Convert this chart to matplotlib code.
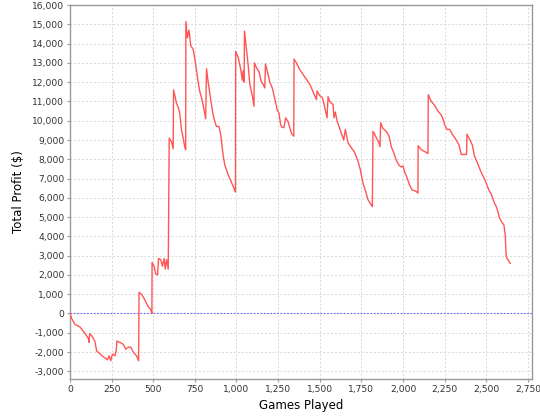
import matplotlib
matplotlib.use('Agg')
import matplotlib.pyplot as plt
from matplotlib.ticker import FuncFormatter, MultipleLocator

games = [0, 10, 30, 60, 90, 110, 115, 118, 130, 150, 160, 175, 200, 225, 235, 245,
         255, 270, 278, 282, 300, 320, 335, 350, 365, 380, 400, 412, 415, 430, 450,
         470, 485, 492, 493, 505, 515, 526, 532, 545, 555, 565, 572, 580, 590, 596,
         610, 620, 622, 640, 650, 660, 670, 680, 690, 695, 696, 705, 715, 725, 740,
         750, 760, 770, 780, 790, 800, 815, 820, 830, 845, 860, 870, 880, 895, 905,
         920, 930, 950, 970, 990, 994, 995, 1010, 1025, 1035, 1040, 1046, 1048, 1060,
         1070, 1080, 1095, 1105, 1108, 1120, 1135, 1150, 1160, 1170, 1174, 1190, 1200,
         1215, 1230, 1245, 1255, 1265, 1275, 1285, 1295, 1310, 1320, 1330, 1344, 1346,
         1360, 1380, 1400, 1420, 1440, 1455, 1470, 1480, 1484, 1500, 1516, 1530, 1544,
         1550, 1560, 1570, 1580, 1586, 1594, 1604, 1616, 1630, 1644, 1654, 1670, 1690,
         1710, 1730, 1744, 1760, 1776, 1790, 1804, 1816, 1820, 1830, 1840, 1854, 1862,
         1866, 1880, 1900, 1916, 1930, 1946, 1960, 1976, 1990, 2000, 2010, 2020, 2030,
         2040, 2056, 2076, 2090, 2091, 2110, 2130, 2150, 2152, 2170, 2190, 2210, 2230,
         2240, 2250, 2264, 2280, 2300, 2320, 2336, 2350, 2382, 2384, 2400, 2416, 2430,
         2450, 2466, 2480, 2496, 2516, 2530, 2546, 2560, 2570, 2580, 2596, 2606, 2614,
         2620, 2630, 2644]
profit = [0, -260, -570, -700, -1040, -1290, -1500, -1050, -1150, -1450, -1950, -2050,
          -2250, -2400, -2200, -2450, -2100, -2200, -1900, -1430, -1500, -1600, -1850,
          -1750, -1750, -2000, -2200, -2450, 1100, 1000, 700, 350, 200, 0, 2650, 2450,
          2050, 2000, 2850, 2800, 2450, 2850, 2300, 2800, 2300, 9100, 8900, 8550, 11600,
          10900, 10700, 10350, 9500, 9100, 8600, 8500, 15150, 14300, 14700, 13900, 13700,
          13200, 12600, 12000, 11500, 11200, 10800, 10100, 12700, 12000, 11100, 10300,
          9950, 9700, 9700, 9300, 8200, 7700, 7200, 6800, 6400, 6300, 13600, 13300, 12700,
          12100, 12600, 12000, 14650, 13700, 12900, 11900, 11300, 10750, 13000, 12750,
          12550, 12000, 11900, 11700, 12950, 12400, 12000, 11700, 11150, 10550, 10400,
          9800, 9650, 9650, 10150, 9950, 9650, 9350, 9200, 13200, 13000, 12650, 12400,
          12150, 11900, 11600, 11300, 11100, 11550, 11300, 11200, 10700, 10150, 11250,
          11000, 10900, 10850, 10150, 10450, 10000, 9700, 9350, 9000, 9550, 8850, 8600,
          8350, 7900, 7450, 6750, 6330, 5900, 5700, 5550, 9450, 9300, 9100, 8900, 8650,
          9900, 9600, 9450, 9200, 8650, 8300, 7950, 7700, 7600, 7650, 7350, 7150, 6900,
          6650, 6400, 6350, 6250, 8700, 8500, 8400, 8300, 11350, 11000, 10800, 10500,
          10300, 10100, 9800, 9550, 9550, 9250, 9000, 8750, 8250, 8250, 9300, 9050, 8750,
          8150, 7750, 7400, 7150, 6850, 6400, 6200, 5800, 5550, 5300, 4950, 4700, 4600,
          4100, 2950, 2800, 2600]

fig = plt.figure(figsize=(5.4, 4.2), dpi=100)
ax = fig.add_axes([0.1296, 0.0976, 0.8556, 0.8912])

ax.plot(games, profit, color='#ff5555', linewidth=1.0, zorder=3)
# Нулевая линия
ax.axhline(0, color='#6666ff', linewidth=0.8, linestyle=(0, (1.5, 1.5)), zorder=2)

ax.set_xlim(0, 2775)
ax.set_ylim(-3400, 16020)
ax.xaxis.set_major_locator(MultipleLocator(250))
ax.yaxis.set_major_locator(MultipleLocator(1000))
fmt = FuncFormatter(lambda v, p: f'{v:,.0f}')
ax.xaxis.set_major_formatter(fmt)
ax.yaxis.set_major_formatter(fmt)

ax.grid(True, color='#d8d8d8', linestyle=(0, (2, 2)), linewidth=0.7, zorder=0)
for s in ax.spines.values():
    s.set_color('#999999')
    s.set_linewidth(1.0)
ax.tick_params(direction='out', length=2, width=0.8, color='#999999',
               labelsize=6.6, labelcolor='#333333', pad=2)

ax.set_xlabel('Games Played', fontsize=8.5, labelpad=4)
ax.set_ylabel('Total Profit ($)', fontsize=8.5, labelpad=5)

plt.savefig('out.png', dpi=100)
plt.close()
